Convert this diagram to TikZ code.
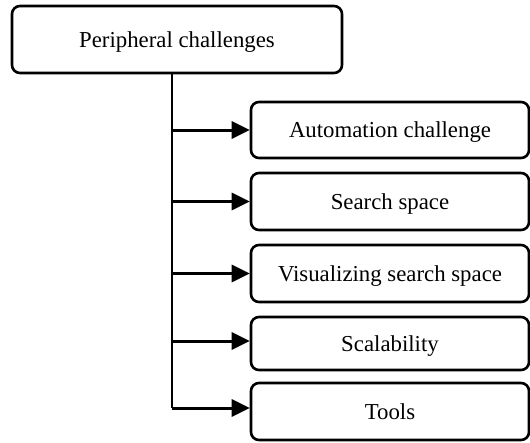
\documentclass[tikz,border=0pt]{standalone}
\usepackage{fontspec}
\setmainfont{Liberation Serif}
\usetikzlibrary{arrows.meta}
\begin{document}
\begin{tikzpicture}[x=1pt,y=-1pt,
  box/.style={draw=black, line width=2.6pt, rounded corners=8pt, fill=white,
    inner sep=0pt, text depth=0pt, font=\fontsize{22.8}{27}\selectfont},
  sub/.style={box, minimum width=278pt},
  link/.style={line width=3pt, -{Triangle[length=18pt,width=17pt]}},
  trunk/.style={line width=1.4pt}]
\useasboundingbox (0,0) rectangle (530,442);
% root
\node[box, minimum width=330pt, minimum height=67pt] (root) at (177,39.5) {Peripheral challenges};
% children
\node[sub, minimum height=56pt] (c1) at (390,130) {Automation challenge};
\node[sub, minimum height=57pt] (c2) at (390,201.5) {Search space};
\node[sub, minimum height=57pt] (c3) at (390,273.5) {Visualizing search space};
\node[sub, minimum height=53pt] (c4) at (390,343.5) {Scalability};
\node[sub, minimum height=57pt] (c5) at (390,411.5) {Tools};
% vertical trunk
\coordinate (tx) at (172,0);
\coordinate (tend) at (172,408);
\draw[trunk] (root.south -| tx) -- (tend);
% branches
\draw[link] (tx |- c1.west) -- (c1.west);
\draw[link] (tx |- c2.west) -- (c2.west);
\draw[link] (tx |- c3.west) -- (c3.west);
\draw[link] ([yshift=2.5pt]tx |- c4.west) -- ([yshift=2.5pt]c4.west);
\draw[link] (tend) -- (tend -| c5.west);
\end{tikzpicture}
\end{document}
